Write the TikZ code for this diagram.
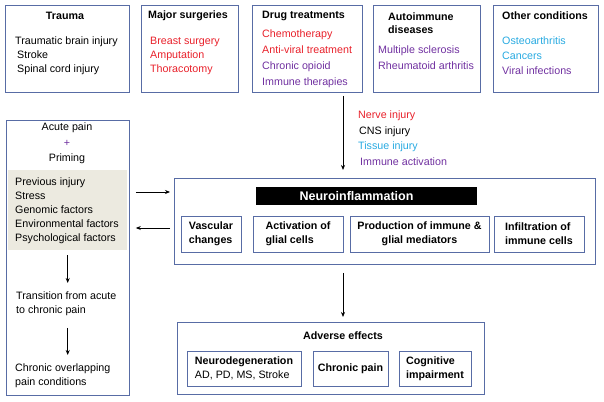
\documentclass[tikz,border=0pt]{standalone}
\usepackage{fontspec}
\setmainfont{Liberation Sans}
\usetikzlibrary{arrows.meta}

\definecolor{boxblue}{RGB}{88,108,165}
\definecolor{myred}{RGB}{232,32,42}
\definecolor{mypurple}{RGB}{112,48,160}
\definecolor{mycyan}{RGB}{40,170,225}
\definecolor{grayfill}{RGB}{236,234,224}

\newcommand{\figfont}{\fontsize{10.7}{14}\selectfont}

\tikzset{
  box/.style={draw=boxblue, line width=0.8pt, anchor=north west, inner sep=0},
  txt/.style={anchor=north west, inner sep=0, align=left},
  ttl/.style={inner sep=0, font=\figfont\bfseries},
  sub/.style={draw=boxblue, line width=0.8pt, inner sep=0, font=\figfont\bfseries, align=left},
  arr/.style={-{Stealth[length=5pt,width=4pt]}, line width=0.8pt},
}

\begin{document}
\begin{tikzpicture}[x=1pt,y=-1pt,font=\figfont]
    \useasboundingbox (0,0) rectangle (604,401);
    % causes
    \node[box, minimum width=124, minimum height=87] (trauma) at (5,5) {};
    \node[box, minimum width=97, minimum height=87] (surg) at (141,5) {};
    \node[box, minimum width=110, minimum height=87] (drug) at (252,5) {};
    \node[box, minimum width=107, minimum height=87] (auto) at (373,5) {};
    \node[box, minimum width=105, minimum height=87] (other) at (493,5) {};
    \node[ttl] (ttrauma) at (65,16) {Trauma};
    \node[txt] (ltrauma) at (15,36.5) {Traumatic brain injury\\\hspace{2pt}Stroke\\\hspace{2pt}Spinal cord injury};
    \node[ttl] (tsurg) at (188,16) {Major surgeries};
    \node[txt, text=myred] (lsurg) at (150,36.5) {Breast surgery\\Amputation\\Thoracotomy};
    \node[ttl, anchor=west] (tdrug) at (262,16) {Drug treatments};
    \node[txt, font=\fontsize{10.7}{16}\selectfont] (ldrug) at (262,29.5) {\textcolor{myred}{Chemotherapy}\\\textcolor{myred}{Anti-viral treatment}\\\textcolor{mypurple}{Chronic opioid}\\\textcolor{mypurple}{Immune therapies}};
    \node[txt, font=\fontsize{10.7}{13}\selectfont\bfseries] (tauto) at (388,12.5) {Autoimmune\\diseases};
    \node[txt, text=mypurple, font=\fontsize{10.7}{16}\selectfont] (lauto) at (378,45.5) {Multiple sclerosis\\Rheumatoid arthritis};
    \node[ttl, anchor=west] (tother) at (502,16) {Other conditions};
    \node[txt, font=\fontsize{10.7}{15}\selectfont] (lother) at (502,36.5) {\textcolor{mycyan}{Osteoarthritis}\\\textcolor{mycyan}{Cancers}\\\textcolor{mypurple}{Viral infections}};
    % injuries
    \coordinate (inj) at (343,95);
    \node[txt, font=\fontsize{10.7}{15.7}\selectfont] (linj) at (358,110.5) {\textcolor{myred}{Nerve injury}\\\hspace{1pt}CNS injury\\\textcolor{mycyan}{Tissue injury}\\\hspace{2pt}\textcolor{mypurple}{Immune activation}};
    % neuroinflammation
    \node[box, minimum width=421, minimum height=86] (neuro) at (174,178) {};
    \node[fill=black, text=white, inner sep=0, minimum width=221, minimum height=18, font=\fontsize{12.5}{14}\selectfont\bfseries] (bar) at (366.5,196) {\hspace*{-20pt}Neuroinflammation};
    \node[sub, minimum width=60, minimum height=36] (vasc) at (211,234) {Vascular\\changes};
    \node[sub, minimum width=90, minimum height=36] (act) at (298,234) {Activation of\\glial cells};
    \node[sub, align=center, minimum width=139, minimum height=36] (prod) at (419.5,234) {Production of immune \&\\glial mediators};
    \node[sub, minimum width=90, minimum height=36] (infl) at (539,234) {Infiltration of\\immune cells};
    % adverse effects
    \node[box, minimum width=307, minimum height=72] (adv) at (177,322) {};
    \node[ttl] (tadv) at (343,336) {Adverse effects};
    \node[sub, minimum width=114, minimum height=35] (degen) at (244,368.5) {Neurodegeneration\\\mdseries AD, PD, MS, Stroke};
    \node[sub, minimum width=75, minimum height=35] (cpain) at (350.5,368.5) {Chronic pain};
    \node[sub, minimum width=72, minimum height=35] (cog) at (435,368.5) {Cognitive\\impairment};
    % acute pain
    \node[box, minimum width=123, minimum height=275] (lbox) at (6,120) {};
    \node[inner sep=0] (acute) at (67,128) {Acute pain};
    \node[inner sep=0, text=mypurple] (plus) at (67,143) {+};
    \node[inner sep=0] (prime) at (67,159) {Priming};
    \node[fill=grayfill, anchor=north west, inner sep=0, minimum width=119, minimum height=80] (prim) at (8,170) {};
    \node[txt] (lprim) at (15,177.5) {Previous injury\\Stress\\Genomic factors\\Environmental factors\\Psychological factors};
    \node[txt] (trans) at (16,291.5) {Transition from acute\\to chronic pain};
    \node[txt] (chron) at (15,363.5) {Chronic overlapping\\pain conditions};
    \coordinate (pin) at (0,192);
    \coordinate (pout) at (0,228);

    \draw [arr, shorten <=3pt, shorten >=8pt] (inj |- drug.south) -- (inj |- neuro.north);
    \draw [arr, shorten <=8pt, shorten >=5pt] (inj |- neuro.south) -- (inj |- adv.north);
    \draw [arr, shorten <=6pt, shorten >=4pt] (lbox.east |- pin) -- (neuro.west |- pin);
    \draw [arr, shorten <=4pt, shorten >=6pt] (neuro.west |- pout) -- (lbox.east |- pout);
    \draw [arr, shorten <=5pt, shorten >=8.5pt] (prim.south) -- (prim.south |- trans.north);
    \draw [arr, shorten <=12pt, shorten >=8.5pt] (prim.south |- trans.south) -- (prim.south |- chron.north);
\end{tikzpicture}
\end{document}
